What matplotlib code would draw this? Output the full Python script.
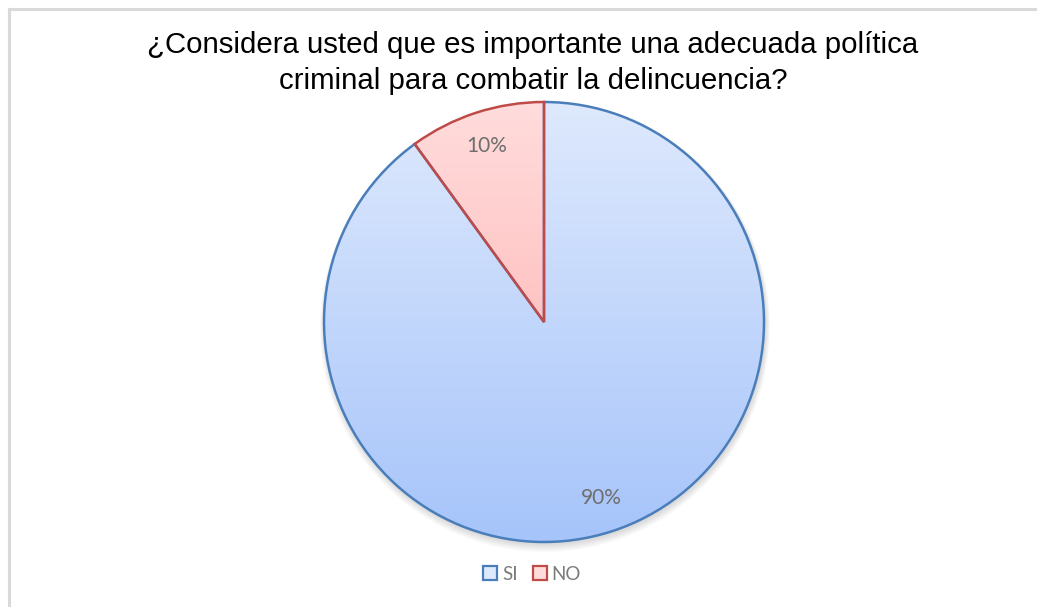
import numpy as np
import matplotlib.pyplot as plt
from matplotlib.colors import LinearSegmentedColormap
from matplotlib.patches import Patch, Circle
from matplotlib.lines import Line2D

# datos de la encuesta
categorias = ["SI", "NO"]
porcentajes = [90, 10]
etiquetas = ["90%", "10%"]
titulo = "¿Considera usted que es importante una adecuada política\ncriminal para combatir la delincuencia?"

# colores (degradado arriba -> abajo)
color_arriba = ["#dee9fd", "#ffdcdc"]
color_abajo = ["#a6c4fa", "#ffa9a9"]
color_borde = ["#4a7ebb", "#be4b48"]

W, H = 1037, 607
fig = plt.figure(figsize=(W / 100, H / 100), dpi=100)
ax = fig.add_axes([0, 0, 1, 1])

cx, cy, r = 544, H - 322, 220

# sombra suave
for k in range(6):
    ax.add_patch(Circle((cx + 1, cy - 2 - k * 0.6), r + 1 + k * 0.8,
                        facecolor="#000000", alpha=0.025, edgecolor="none", zorder=1))

wedges, textos = ax.pie(porcentajes, startangle=90, counterclock=False,
                        center=(cx, cy), radius=r, frame=True,
                        wedgeprops=dict(linewidth=1.8, zorder=3))

# relleno con degradado recortado a cada porcion
grad = np.linspace(0, 1, 256).reshape(-1, 1)
for i, w in enumerate(wedges):
    cmap = LinearSegmentedColormap.from_list("g%d" % i, [color_abajo[i], color_arriba[i]])
    w.set_facecolor("none")
    w.set_edgecolor(color_borde[i])
    img = ax.imshow(grad, cmap=cmap, origin="lower", aspect="auto",
                    extent=(cx - r, cx + r, cy - r, cy + r), zorder=2)
    img.set_clip_path(w)

# etiquetas de porcentaje
for w, txt in zip(wedges, etiquetas):
    ang = np.deg2rad((w.theta1 + w.theta2) / 2)
    ax.text(cx + 0.84 * r * np.cos(ang), cy + 0.84 * r * np.sin(ang), txt,
            ha="center", va="center", fontsize=15, color="#6e6e6e",
            family="Lato", zorder=4)

ax.set_xlim(0, W)
ax.set_ylim(0, H)
ax.set_aspect("equal")
ax.axis("off")

fig.text(533 / W, 1 - 63 / H, titulo, ha="center", va="center",
         fontsize=21.2, family="Liberation Sans", color="#000000", linespacing=1.38)

handles = [Patch(facecolor=color_arriba[i], edgecolor=color_borde[i], linewidth=1.6)
           for i in range(len(categorias))]
fig.legend(handles, categorias, loc="center", bbox_to_anchor=(532 / W, 1 - 574 / H),
           ncol=2, frameon=False, handlelength=0.75, handleheight=0.75,
           handletextpad=0.25, columnspacing=0.8,
           prop=dict(family="Lato", size=13.5), labelcolor="#7a7a7a")

# marco gris (izquierda y arriba)
fig.add_artist(Line2D([9 / W, 9 / W], [0, 1 - 9 / H], color="#d9d9d9", linewidth=2.2,
                      transform=fig.transFigure))
fig.add_artist(Line2D([9 / W, 1], [1 - 9 / H, 1 - 9 / H], color="#d9d9d9", linewidth=2.2,
                      transform=fig.transFigure))

fig.savefig("out.png", dpi=100)
